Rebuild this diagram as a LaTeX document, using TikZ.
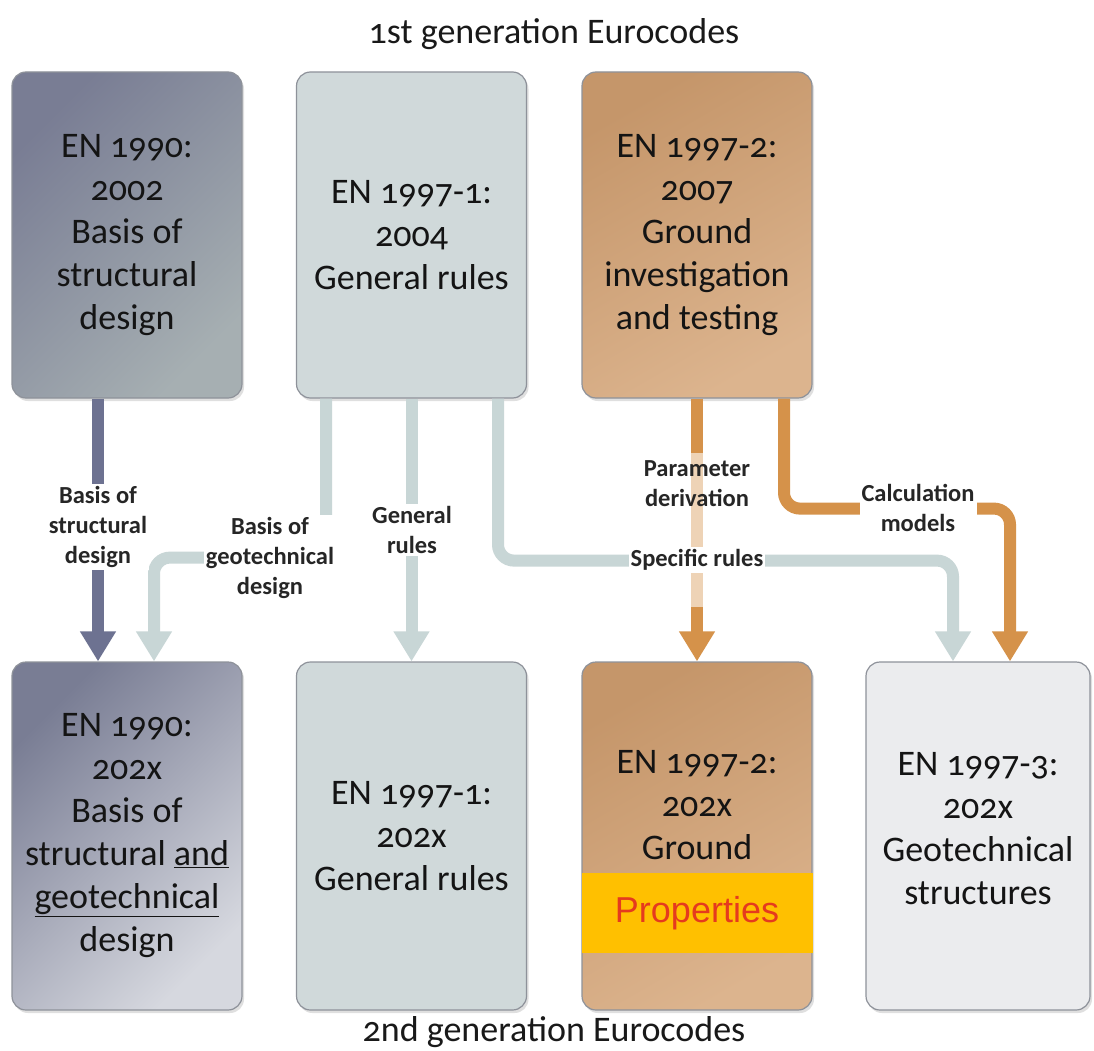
\documentclass[tikz,border=0pt]{standalone}
\usepackage{fontspec}
\setmainfont{Carlito}[Numbers=OldStyle]
\newfontfamily\propfont{Liberation Sans}
\usetikzlibrary{arrows.meta,shadows}
\definecolor{slatedark}{HTML}{797D94}
\definecolor{slatelight}{HTML}{A6AFB2}
\definecolor{slatepale}{HTML}{D6D8DF}
\definecolor{mist}{HTML}{D0D9DA}
\definecolor{sand}{HTML}{C5966A}
\definecolor{sandlight}{HTML}{DCB48E}
\definecolor{cloud}{HTML}{EBECEE}
\definecolor{edge}{HTML}{8E929A}
\definecolor{darklink}{HTML}{6D7291}
\definecolor{lightlink}{HTML}{C8D6D6}
\definecolor{orangelink}{HTML}{D5924A}
\definecolor{propyellow}{HTML}{FFC000}
\definecolor{propred}{HTML}{E53A1E}
\tikzset{
BOX/.style={draw=edge, line width=1.2pt, rounded corners=14pt, align=center, minimum width=230pt,
	text=black!92, font=\fontsize{36}{43}\selectfont,
	drop shadow={opacity=0.25, shadow xshift=2pt, shadow yshift=-3pt}},
TOP/.style={BOX, minimum height=326pt},
BOTTOM/.style={BOX, minimum height=348pt},
LINK/.style={draw=#1, line width=12pt, rounded corners=16pt, -{Triangle[width=34pt,length=30pt]}},
LABEL/.style={fill=white, inner sep=2pt, align=center, text=black!85, font=\bfseries\fontsize{24.5}{30}\selectfont},
TITLE/.style={text=black!90, font=\fontsize{36}{40}\selectfont},
}
\begin{document}
\begin{tikzpicture}[x=1pt,y=-1pt]
	\fill[white] (0,0) rectangle (1094,1051);
	\useasboundingbox (0,0) rectangle (1094,1051);
	%Titles
	\node[TITLE] (gen1) at (554,34) {1st generation Eurocodes};
	\node[TITLE] (gen2) at (554,1032) {2nd generation Eurocodes};
	%1st generation
	\node[TOP, top color=slatedark, bottom color=slatelight, shading angle=45] (A) at (127,235)
		{EN 1990:\\2002\\Basis of\\structural\\design};
	\node[TOP, fill=mist] (B) at (411.5,235) {EN 1997-1:\\2004\\General rules};
	\node[TOP, top color=sand, bottom color=sandlight, shading angle=30] (C) at (697,235)
		{EN 1997-2:\\2007\\Ground\\investigation\\and testing};
	%2nd generation
	\node[BOTTOM, top color=slatedark, bottom color=slatepale, shading angle=45] (D) at (127,836)
		{EN 1990:\\202\textsc{x}\\Basis of\\structural \underline{and}\\\underline{geotechnical}\\design};
	\node[BOTTOM, fill=mist] (E) at (411.5,836) {EN 1997-1:\\202\textsc{x}\\General rules};
	\node[BOTTOM, top color=sand, bottom color=sandlight, shading angle=30] (F) at (697,836)
		{EN 1997-2:\\202\textsc{x}\\Ground\\[19pt]\mbox{}};
	\node[BOTTOM, fill=cloud, minimum width=224pt] (G) at (978,836)
		{EN 1997-3:\\202\textsc{x}\\Geotechnical\\structures\\[-28pt]\mbox{}};
	\node[minimum width=231pt, minimum height=80pt, fill=propyellow, text=propred,
		font=\propfont\fontsize{36}{40}\selectfont] (prop) at (697,913) {Properties};
	%Links
	\path[LINK=darklink] ([xshift=-29pt]A.south) -- ([xshift=-29pt]D.north);
	\path[LINK=lightlink] ([xshift=-85.5pt]B.south) -- ++(0,159) -| ([xshift=27pt]D.north);
	\path[LINK=lightlink] (B.south) -- (E.north);
	\path[LINK=lightlink] ([xshift=86.5pt]B.south) -- ++(0,162) -| ([xshift=-25pt]G.north);
	\path[LINK=orangelink] (C.south) -- (F.north);
	\path[LINK=orangelink] ([xshift=87pt]C.south) -- ++(0,110) -| ([xshift=32pt]G.north);
	\fill[white, fill opacity=0.6] (690,453) rectangle (704,607); %washed out
	%Labels
	\node[LABEL] (lblstruct) at (98,527) {Basis of\\structural\\design};
	\node[LABEL] (lblgeo) at (270,558) {Basis of\\geotechnical\\design};
	\node[LABEL] (lblgen) at (412,530) {General\\rules};
	\node[LABEL, fill=none] (lblpar) at (697,484) {Parameter\\derivation};
	\node[LABEL] (lblspec) at (697,560) {Specific rules};
	\node[LABEL] (lblcalc) at (918,508) {Calculation\\models};
\end{tikzpicture}
\end{document}
